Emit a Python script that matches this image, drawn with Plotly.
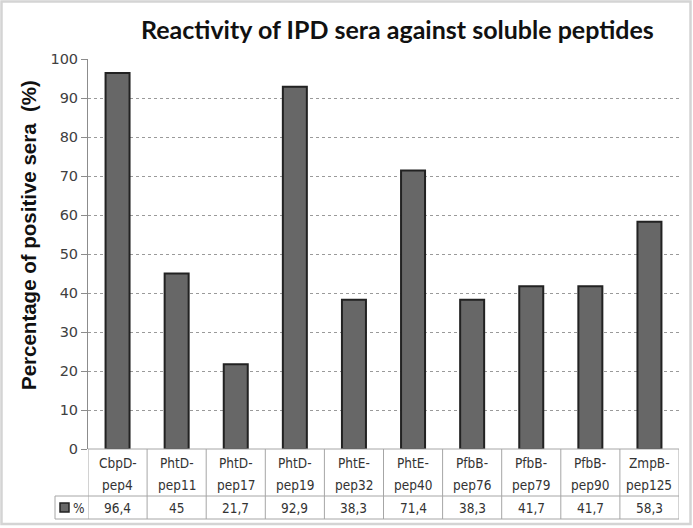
import plotly.graph_objects as go

categories = ["CbpD-pep4", "PhtD-pep11", "PhtD-pep17", "PhtD-pep19", "PhtE-pep32",
              "PhtE-pep40", "PfbB-pep76", "PfbB-pep79", "PfbB-pep90", "ZmpB-pep125"]
values = [96.4, 45, 21.7, 92.9, 38.3, 71.4, 38.3, 41.7, 41.7, 58.3]
series_name = "%"
y_ticks = [0, 10, 20, 30, 40, 50, 60, 70, 80, 90, 100]
title_text = "Reactivity of IPD sera against soluble peptides"
y_title = "Percentage of positive sera  (%)"

W, H = 693, 528
L, R, T, B = 88, 14, 59, 79
PW = W - L - R
PH = H - T - B
BASE = T + PH  # pixel y of zero line


def px(x):
    return (x - L) / PW


def py(y):
    return (BASE - y) / PH


BAR_COLOR = "#676767"
BAR_LINE = "#222222"
TABLE_LINE = "#a6a6a6"
TXT = "#333333"
TABLE_FONT = dict(family="DejaVu Sans Condensed", size=13.5, color=TXT)

fig = go.Figure()
fig.add_trace(go.Bar(
    x=categories, y=values, name=series_name,
    marker=dict(color=BAR_COLOR, line=dict(color=BAR_LINE, width=2)),
    showlegend=False,
))

shapes = []
annotations = []

row_sep = py(496)
row_bot = py(519)
key_left = px(55)

for i in range(len(categories) + 1):
    shapes.append(dict(type="line", xref="x", yref="paper", x0=i - 0.5, x1=i - 0.5,
                       y0=0, y1=row_bot, line=dict(color=TABLE_LINE, width=1)))
shapes.append(dict(type="line", xref="paper", yref="paper", x0=0, x1=1, y0=0, y1=0,
                   line=dict(color=TABLE_LINE, width=1)))
shapes.append(dict(type="line", xref="paper", yref="paper", x0=key_left, x1=1, y0=row_sep, y1=row_sep,
                   line=dict(color=TABLE_LINE, width=1)))
shapes.append(dict(type="line", xref="paper", yref="paper", x0=key_left, x1=1, y0=row_bot, y1=row_bot,
                   line=dict(color=TABLE_LINE, width=1)))
shapes.append(dict(type="line", xref="paper", yref="paper", x0=key_left, x1=key_left, y0=row_sep, y1=row_bot,
                   line=dict(color=TABLE_LINE, width=1)))
shapes.append(dict(type="rect", xref="paper", yref="paper", x0=px(60), x1=px(69), y0=py(503), y1=py(512),
                   fillcolor=BAR_COLOR, line=dict(color=BAR_LINE, width=1.5)))
shapes.append(dict(type="rect", xref="paper", yref="paper", x0=px(1.5), x1=px(690.5), y0=py(1.5), y1=py(524),
                   line=dict(color="#d4d4d4", width=2.5), layer="below"))

for c, v in zip(categories, values):
    top, bot = c.split("-", 1)
    annotations.append(dict(x=c, xref="x", y=py(463), yref="paper", text=top + "-", showarrow=False,
                            font=TABLE_FONT, xanchor="center", yanchor="middle"))
    annotations.append(dict(x=c, xref="x", y=py(485), yref="paper", text=bot, showarrow=False,
                            font=TABLE_FONT, xanchor="center", yanchor="middle"))
    annotations.append(dict(x=c, xref="x", y=py(508), yref="paper", text=f"{v:g}".replace(".", ","),
                            showarrow=False, font=TABLE_FONT, xanchor="center", yanchor="middle"))

annotations.append(dict(x=px(71), xref="paper", y=py(508), yref="paper", text=series_name, showarrow=False,
                        font=TABLE_FONT, xanchor="left", yanchor="middle"))
annotations.append(dict(x=px(397), xref="paper", y=py(29), yref="paper", text="<b>" + title_text + "</b>",
                        showarrow=False, font=dict(family="Lato", size=25, color="#111111"),
                        xanchor="center", yanchor="middle"))
annotations.append(dict(x=px(29), xref="paper", y=py(235), yref="paper", text="<b>" + y_title + "</b>",
                        showarrow=False, textangle=-90,
                        font=dict(family="Liberation Sans", size=20.5, color="#111111"),
                        xanchor="center", yanchor="middle"))

fig.update_layout(
    width=W, height=H,
    margin=dict(l=L, r=R, t=T, b=B, pad=0),
    paper_bgcolor="white", plot_bgcolor="white",
    bargap=0.594,
    shapes=shapes, annotations=annotations,
    xaxis=dict(type="category", range=[-0.5, len(categories) - 0.5], showticklabels=False,
               showgrid=False, zeroline=False, showline=False, ticks=""),
    yaxis=dict(range=[0, 100], tickvals=y_ticks, showgrid=True, gridcolor="#9a9a9a", griddash="dot",
               gridwidth=1, zeroline=False, showline=True, linecolor="#8c8c8c", linewidth=1,
               ticks="outside", ticklen=6, tickcolor="#8c8c8c",
               tickfont=dict(family="DejaVu Sans", size=14.5, color="#404040")),
)

fig.write_html("out.html", config={"displayModeBar": False},
               post_script="document.body.style.margin='0';document.body.style.overflow='hidden';")
